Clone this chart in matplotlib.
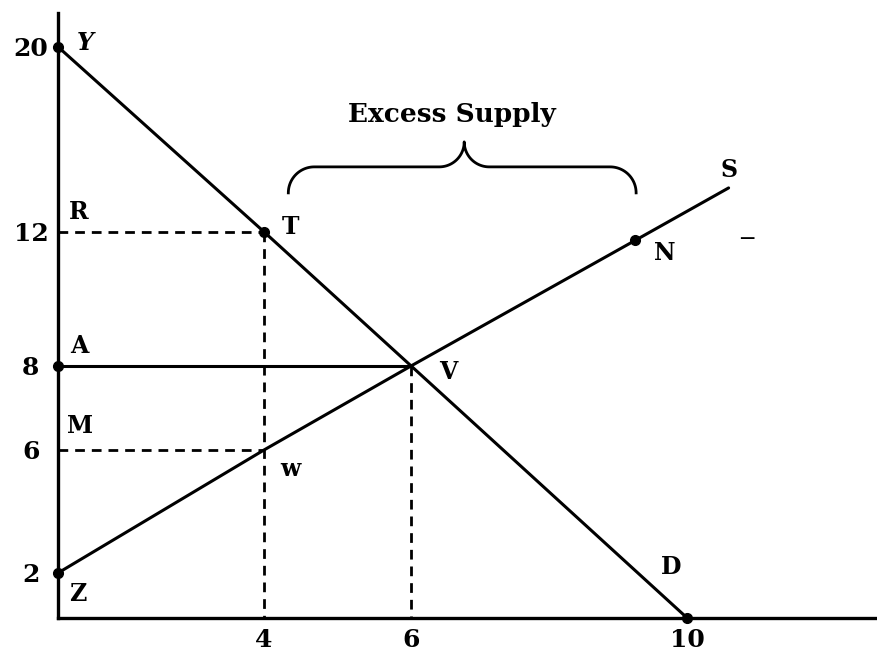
import numpy as np
import matplotlib
matplotlib.use('Agg')
import matplotlib.pyplot as plt
from matplotlib.transforms import IdentityTransform

# values
q_ticks = [4, 6, 10]
p_ticks = [20, 12, 8, 6, 2]

demand_q = [0, 4, 6, 10]
demand_p = [20, 12, 8, 0]
supply_q = [0, 4, 6, 9.25, 10.6]
supply_p = [2, 6, 8, 11.75, 13.9]

dot_q = [0, 4, 0, 0, 10, 9.25]      # Y, T, A, Z, D, N
dot_p = [20, 12, 8, 2, 0, 11.75]

# the drawing is not to scale: knots of a piecewise axis (value -> pixels from origin)
q_knots = [-1, 0, 4, 6, 10, 14]
q_pix = [-51.5, 0, 206, 353, 629, 905]
p_knots = [-1, 0, 2, 6, 8, 12, 20, 23]
p_pix = [-22.5, 0, 45, 168, 252, 386, 571, 640]

plt.rcParams['font.family'] = 'DejaVu Serif'
plt.rcParams['font.weight'] = 'bold'

fig = plt.figure(figsize=(8.77, 6.62), dpi=100)
ax = fig.add_axes([58 / 877, 44 / 662, 819 / 877, 605 / 662])

ax.set_xscale('function', functions=(lambda v: np.interp(v, q_knots, q_pix),
                                     lambda u: np.interp(u, q_pix, q_knots)))
ax.set_yscale('function', functions=(lambda v: np.interp(v, p_knots, p_pix),
                                     lambda u: np.interp(u, p_pix, p_knots)))
ax.set_xlim(0, 12.75)
ax.set_ylim(0, 21.47)

lw = 2.2
# demand and supply
ax.plot(demand_q, demand_p, color='black', lw=lw, solid_capstyle='round')
ax.plot(supply_q, supply_p, color='black', lw=lw, solid_capstyle='round', clip_on=False)

# guide lines
dash = (0, (3.5, 2.5))
ax.plot([0, 4], [12, 12], color='black', lw=2, linestyle=dash)
ax.plot([4, 4], [12, 0], color='black', lw=2, linestyle=dash)
ax.plot([0, 4], [6, 6], color='black', lw=2, linestyle=dash)
ax.plot([6, 6], [8, 0], color='black', lw=2, linestyle=dash)
ax.plot([0, 6], [8, 8], color='black', lw=lw)

ax.plot(dot_q, dot_p, 'o', color='black', ms=7, clip_on=False, zorder=5)

# point labels
labels = [
    ('Y', 0, 20, 27, 4, 'italic'),
    ('R', 0, 12, 21, 20, 'normal'),
    ('T', 4, 12, 26, 5, 'normal'),
    ('A', 0, 8, 21, 20, 'normal'),
    ('M', 0, 6, 22, 24, 'normal'),
    ('w', 4, 6, 26, -19, 'normal'),
    ('Z', 0, 2, 20, -21, 'normal'),
    ('V', 6, 8, 37, -6, 'normal'),
    ('N', 9.25, 11.75, 29, -13, 'normal'),
    ('S', 10.6, 13.9, 0, 18, 'normal'),
    ('D', 10, 0, -16, 51, 'normal'),
]
for s, q, p, dx, dy, st in labels:
    ax.annotate(s, (q, p), xytext=(dx, dy), textcoords='offset pixels',
                ha='center', va='center', fontsize=17, fontweight='bold', style=st)
ax.text(10.87, 11.82, '\u2014', fontsize=11, ha='center', va='center')

# curly brace over the excess supply, drawn in pixels
x0, yb = ax.transData.transform((4.33, 14.81))
x1, _ = ax.transData.transform((9.26, 14.81))
xm = (x0 + x1) / 2 + 2
r, r2 = 26, 25
t = np.linspace(0, np.pi / 2, 30)
bx = np.concatenate([
    x0 + r - r * np.cos(t),
    xm - r2 + r2 * np.sin(t),
    xm + r2 - r2 * np.sin(t[::-1]),
    x1 - r + r * np.cos(t[::-1]),
])
by = np.concatenate([
    yb - r + r * np.sin(t),
    yb + r2 - r2 * np.cos(t),
    yb + r2 - r2 * np.cos(t[::-1]),
    yb - r + r * np.sin(t[::-1]),
])
ax.plot(bx, by, color='black', lw=2, transform=IdentityTransform(), clip_on=False)
ax.text(xm - 12, yb + r2 + 27, 'Excess Supply', transform=IdentityTransform(),
        ha='center', va='center', fontsize=19, fontweight='bold')

# axes
for side in ['top', 'right']:
    ax.spines[side].set_visible(False)
for side in ['left', 'bottom']:
    ax.spines[side].set_linewidth(2.4)
ax.set_xticks(q_ticks)
ax.set_yticks(p_ticks)
ax.minorticks_off()
ax.tick_params(axis='x', length=0, pad=7, labelsize=18)
ax.tick_params(axis='y', length=0, pad=19.5, labelsize=18)
for lbl in ax.get_yticklabels():
    lbl.set_horizontalalignment('center')

fig.savefig('out.png', dpi=100)
